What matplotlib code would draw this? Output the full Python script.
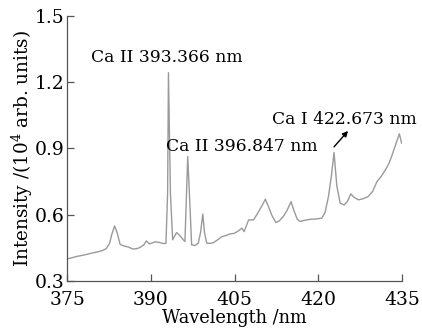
import matplotlib.pyplot as plt

plt.rcParams['font.family'] = ['DejaVu Serif']
plt.rcParams['mathtext.fontset'] = 'dejavuserif'

# spectrum
wavelength = [375.0, 375.8, 376.6, 377.4, 378.2, 379.0, 379.8, 380.6, 381.4, 382.0,
              382.6, 383.0, 383.5, 384.0, 384.5, 385.2, 386.0, 386.8, 387.5, 388.1,
              388.7, 389.2, 389.7, 390.3, 390.8, 391.5, 392.3, 392.7, 393.0, 393.15,
              393.5, 393.9, 394.6, 395.2, 395.8, 396.1, 396.6, 397.0, 397.3, 397.9,
              398.5, 398.9, 399.3, 399.6, 400.0, 400.6, 401.2, 401.9, 402.7, 403.4,
              404.2, 404.9, 405.6, 406.3, 406.7, 407.5, 408.4, 409.2, 410.0, 410.5,
              411.0, 411.7, 412.4, 413.0, 413.7, 414.4, 415.1, 415.6, 416.2, 416.7,
              417.5, 418.5, 419.5, 420.6, 421.2, 421.8, 422.3, 422.8, 423.3, 423.9,
              424.6, 425.2, 425.8, 426.4, 427.2, 428.0, 428.9, 429.7, 430.5, 431.3,
              432.0, 432.6, 433.1, 433.8, 434.5, 434.9]
intensity = [0.400, 0.404, 0.410, 0.414, 0.418, 0.423, 0.428, 0.432, 0.438, 0.446,
             0.470, 0.510, 0.549, 0.515, 0.465, 0.458, 0.453, 0.444, 0.446, 0.452,
             0.462, 0.481, 0.468, 0.472, 0.477, 0.474, 0.469, 0.470, 0.700, 1.243,
             0.700, 0.486, 0.519, 0.505, 0.486, 0.478, 0.863, 0.640, 0.463, 0.460,
             0.471, 0.520, 0.603, 0.520, 0.471, 0.470, 0.473, 0.485, 0.500, 0.505,
             0.513, 0.515, 0.525, 0.539, 0.523, 0.576, 0.576, 0.610, 0.645, 0.670,
             0.640, 0.595, 0.564, 0.572, 0.591, 0.620, 0.659, 0.620, 0.580, 0.569,
             0.574, 0.579, 0.580, 0.584, 0.610, 0.682, 0.770, 0.881, 0.730, 0.652,
             0.644, 0.660, 0.694, 0.678, 0.667, 0.672, 0.682, 0.705, 0.750, 0.775,
             0.803, 0.830, 0.863, 0.915, 0.966, 0.924]

x_ticks = [375, 390, 405, 420, 435]
y_ticks = [0.3, 0.6, 0.9, 1.2, 1.5]

fig = plt.figure(figsize=(4.22, 3.32), dpi=100)
ax = fig.add_axes([0.159, 0.154, 0.794, 0.798])

ax.plot(wavelength, intensity, color='#9a9a9a', linewidth=1.0)

ax.set_xlim(375, 435)
ax.set_ylim(0.3, 1.5)
ax.set_xticks(x_ticks)
ax.set_yticks(y_ticks)
ax.set_yticklabels([f"{v:.1f}" for v in y_ticks])

for side in ['top', 'right']:
    ax.spines[side].set_visible(False)
for side in ['left', 'bottom']:
    ax.spines[side].set_color('#555555')
    ax.spines[side].set_linewidth(0.9)
ax.tick_params(direction='in', length=5, width=0.9, color='#555555',
               labelsize=13.5, pad=2)
ax.tick_params(axis='x', pad=7)

ax.set_xlabel('Wavelength /nm', fontsize=12.8, labelpad=0)
ax.set_ylabel(r'Intensity /(10$^4$ arb. units)', fontsize=13.2, labelpad=0)

ax.text(392.9, 1.314, 'Ca II 393.366 nm', fontsize=12.3, ha='center', va='center')
ax.text(406.2, 0.907, 'Ca II 396.847 nm', fontsize=12.3, ha='center', va='center')
ax.text(424.6, 1.03, 'Ca I 422.673 nm', fontsize=12.3, ha='center', va='center')
ax.annotate('', xy=(425.3, 0.979), xytext=(422.8, 0.907),
            arrowprops=dict(arrowstyle='-|>', color='black', lw=1.0,
                            mutation_scale=8, shrinkA=0, shrinkB=0))

plt.savefig('out.png', dpi=100)
